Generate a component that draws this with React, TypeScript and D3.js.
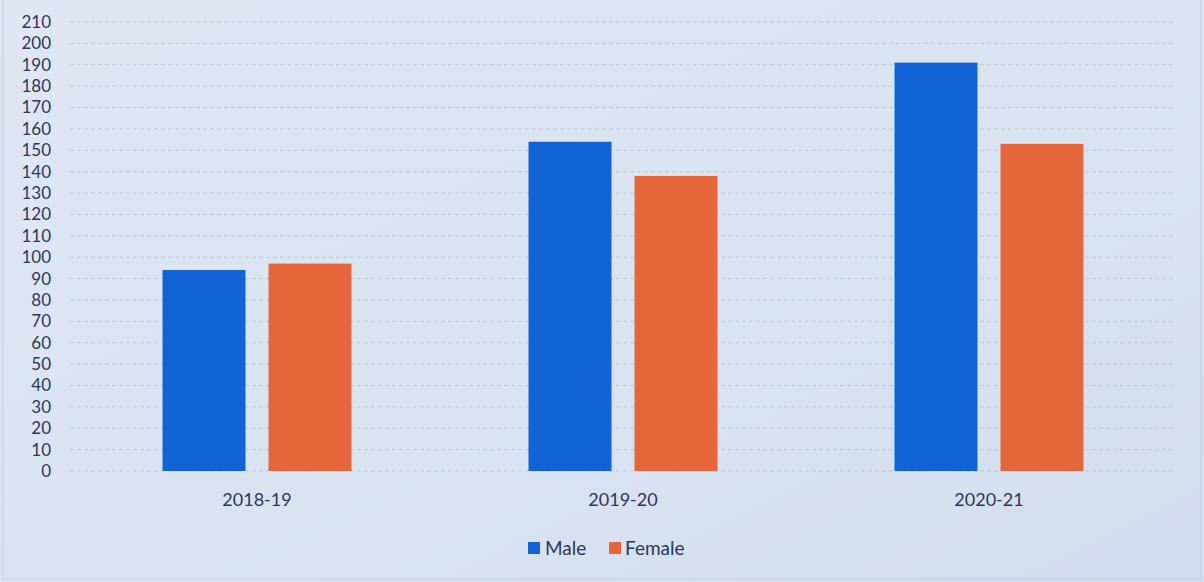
import React from "react";
import * as d3 from "d3";

const categories = ["2018-19", "2019-20", "2020-21"];
const seriesNames = ["Male", "Female"];
const maleValues = [94, 154, 191];
const femaleValues = [97, 138, 153];
const yTicks = d3.range(0, 211, 10);

const W = 1204;
const H = 582;
const colors: Record<string, string> = { Male: "#1263d8", Female: "#e4663a" };
const font = "Lato, 'Open Sans', sans-serif";
const textColor = "#2c3859";

export default function App() {
  const x = d3.scaleBand<string>().domain(categories).range([74, 1172]).padding(0);
  const xs = d3
    .scaleBand<string>()
    .domain(seriesNames)
    .range([0, x.bandwidth()])
    .paddingInner(0.217)
    .paddingOuter(0.835);
  const y = d3.scaleLinear().domain([0, 210]).range([471, 22]);
  const values: Record<string, number[]> = { Male: maleValues, Female: femaleValues };

  return (
    <svg
      width={W}
      height={H}
      style={{ position: "absolute", left: 0, top: 0, display: "block" }}
    >
      <defs>
        <linearGradient id="bg" x1="0" y1="0" x2="1" y2="1">
          <stop offset="0" stopColor="#dfe7f3" />
          <stop offset="0.5" stopColor="#dae4f1" />
          <stop offset="1" stopColor="#d3deee" />
        </linearGradient>
      </defs>
      <rect x={0} y={0} width={W} height={H} fill="url(#bg)" />
      <rect x={3} y={-2} width={W - 6} height={H - 1} fill="none" stroke="#c3cddc" strokeWidth={1} />
      {yTicks.map((t) => (
        <g key={t}>
          <line
            x1={70}
            x2={1172}
            y1={y(t)}
            y2={y(t)}
            stroke="#aeb8c7"
            strokeWidth={1}
            strokeDasharray="4 3"
            opacity={0.65}
          />
          <text
            x={51}
            y={y(t)}
            dy="0.35em"
            textAnchor="end"
            fontFamily={font}
            fontSize={17}
            fill={textColor}
          >
            {t}
          </text>
        </g>
      ))}
      {categories.map((c, i) => (
        <g key={c} transform={`translate(${x(c)},0)`}>
          {seriesNames.map((s) => (
            <rect
              key={s}
              x={xs(s)}
              y={y(values[s][i])}
              width={xs.bandwidth()}
              height={y(0) - y(values[s][i])}
              fill={colors[s]}
            />
          ))}
          <text
            x={x.bandwidth() / 2}
            y={500}
            dy="0.35em"
            textAnchor="middle"
            fontFamily={font}
            fontSize={18}
            fill={textColor}
          >
            {c}
          </text>
        </g>
      ))}
      <g transform="translate(528,548)">
        <rect x={0} y={-6} width={12} height={12} fill={colors.Male} />
        <text x={17} y={0} dy="0.35em" fontFamily={font} fontSize={19} fill={textColor}>
          Male
        </text>
        <rect x={81} y={-6} width={12} height={12} fill={colors.Female} />
        <text x={97} y={0} dy="0.35em" fontFamily={font} fontSize={19} fill={textColor}>
          Female
        </text>
      </g>
    </svg>
  );
}
